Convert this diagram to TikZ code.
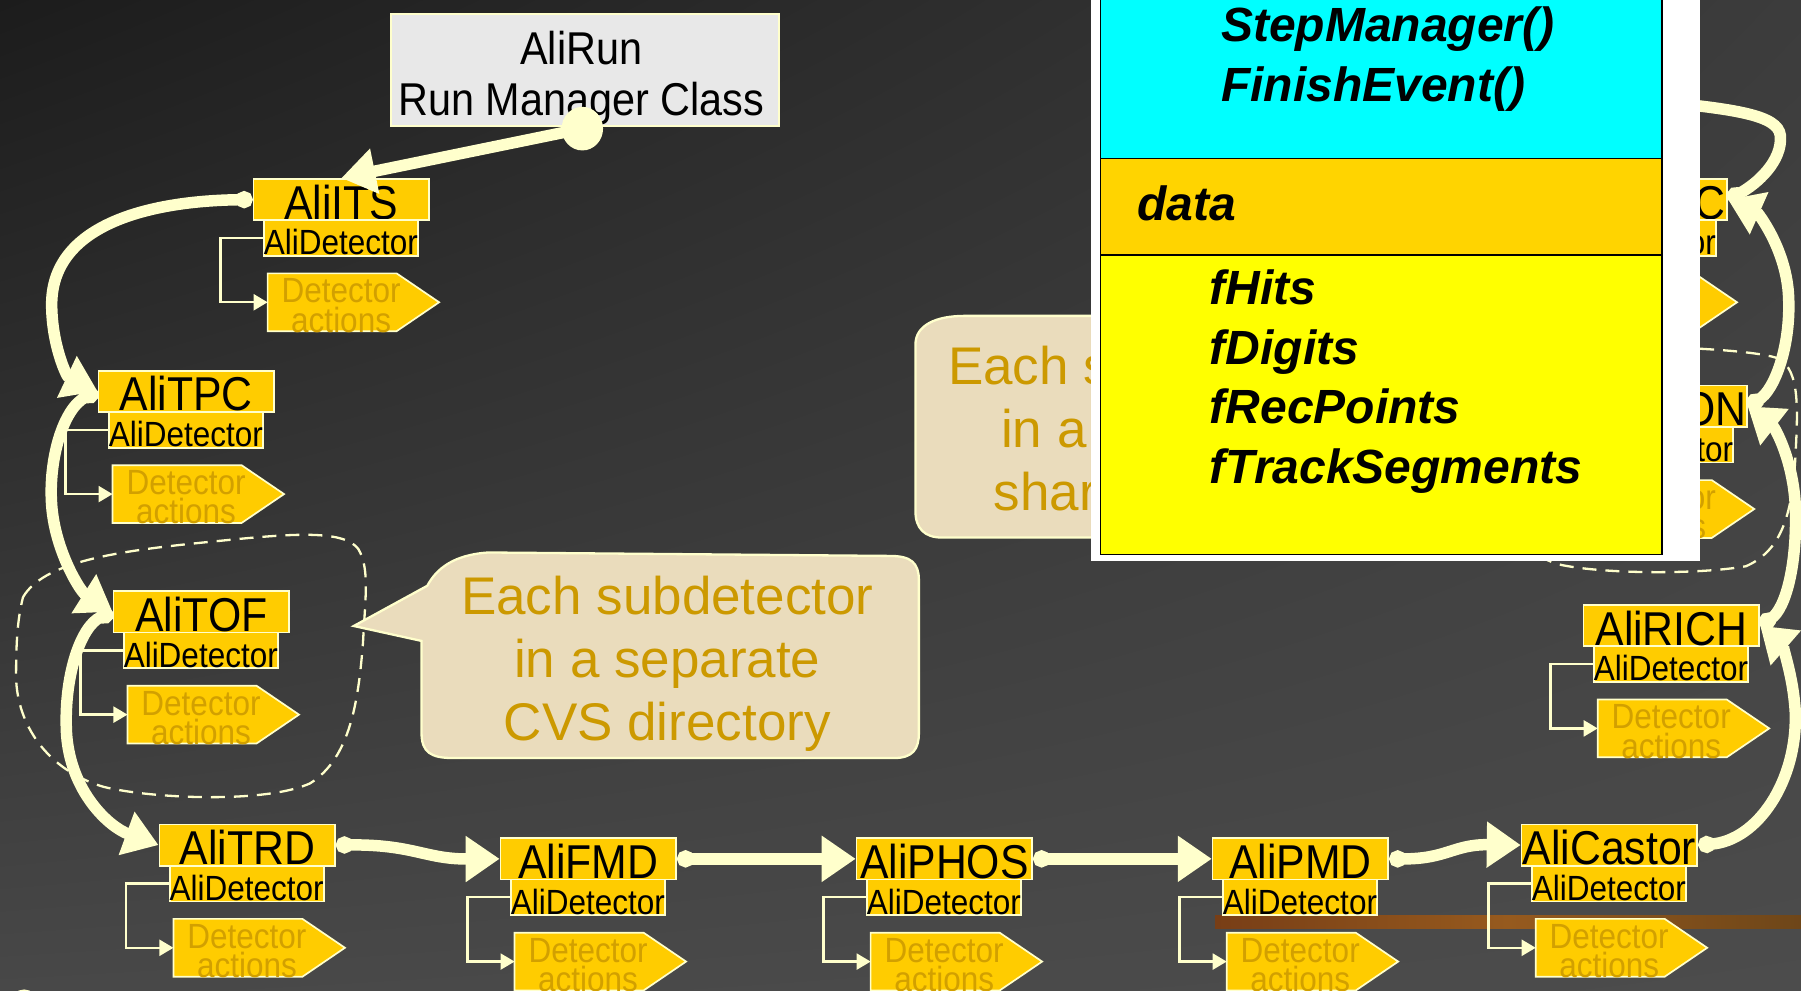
\documentclass[tikz,border=0pt]{standalone}
\usepackage{fontspec}
\setmainfont{Liberation Sans}
\newfontfamily\nsans[FakeStretch=0.9]{Liberation Sans}
\usetikzlibrary{arrows.meta,calc,shadings}
\definecolor{cream}{RGB}{255,255,204}
\definecolor{boxgold}{RGB}{255,204,0}
\definecolor{acttxt}{RGB}{210,160,0}
\definecolor{calltxt}{RGB}{204,153,0}
\definecolor{parch}{RGB}{234,220,188}
\definecolor{datagold}{RGB}{255,212,0}
\definecolor{pcyan}{RGB}{0,255,255}
\definecolor{pyellow}{RGB}{255,255,0}
\definecolor{runbg}{RGB}{232,232,232}
\definecolor{bgUL}{RGB}{28,28,28}
\definecolor{bgUR}{RGB}{60,60,60}
\definecolor{bgLL}{RGB}{72,72,72}
\definecolor{bgLR}{RGB}{76,76,76}
\definecolor{stripA}{RGB}{120,62,22}
\definecolor{stripB}{RGB}{150,90,30}
\definecolor{stripC}{RGB}{110,70,25}
\tikzset{
  mainbox/.style={draw=cream, line width=1.7pt, fill=boxgold, anchor=north west,
    minimum width=175.7pt, inner sep=0pt, text height=40.2pt, text depth=1.1pt,
    font=\nsans\fontsize{47.5}{50}\selectfont},
  detbox/.style={draw=cream, line width=1.7pt, fill=boxgold, anchor=north west,
    minimum width=153.9pt, inner sep=0pt, text height=34.5pt, text depth=1.1pt,
    font=\nsans\fontsize{35}{40}\selectfont},
  actbox/.style={anchor=north west, minimum width=171.1pt, minimum height=57.4pt, inner sep=0pt},
  actshape/.style={draw=cream, line width=1.7pt, fill=boxgold, line join=miter},
  acttext/.style={align=center, inner sep=0pt, text=acttxt, font=\nsans\fontsize{35}{29.3}\selectfont},
  bracket/.style={draw=cream, line width=2.3pt, -{Triangle[length=14pt,width=16pt]}},
  flow/.style={draw=cream, line width=11.5pt, {Circle[length=17pt]}-{Triangle[length=34pt,width=44pt]}},
  flowhead/.style={draw=cream, line width=11.5pt, -{Triangle[length=34pt,width=44pt]}},
  flowtail/.style={draw=cream, line width=11.5pt, {Circle[length=17pt]}-},
  dashloop/.style={draw=cream, line width=2.3pt, dash pattern=on 14pt off 9pt},
  callout/.style={draw=cream, line width=2.3pt, fill=parch},
  calltext/.style={align=center, inner sep=0pt, text=calltxt, font=\fontsize{53}{63}\selectfont},
  runtext/.style={align=center, inner sep=0pt, text=black, font=\nsans\fontsize{46}{51.7}\selectfont},
  paneltext/.style={anchor=base west, inner sep=0pt, font=\bfseries\itshape\fontsize{48}{55}\selectfont},
}
\newcommand\detmod[4]{%
  \node[mainbox] (#1) at (#3,#4) {#2};
  \node[detbox] (#1d) at (#3+9,#4+36) {AliDetector};
  \node[actbox] (#1a) at (#3+13,#4+83) {};
  \path[actshape] (#1a.north west) -- ($(#1a.north east)+(-37,0)$) -- (#1a.east)
     -- ($(#1a.south east)+(-37,0)$) -- (#1a.south west) -- cycle;
  \node[acttext] (#1t) at (#3+77,#4+111) {Detector\\actions};
  \draw[bracket] (#1d.west) -- ++(-37,0) |- (#1a.west);
}
\begin{document}
\begin{tikzpicture}[x=1.1486pt, y=-1.1486pt]
\useasboundingbox (0,0) rectangle (1568,862);
\clip (0,0) rectangle (1568,862);
\shade[upper left=bgUL, upper right=bgUR, lower left=bgLL, lower right=bgLR] (0,0) rectangle (1568,862);
% background strip and ring
\shade[left color=stripA, right color=stripC, middle color=stripB] (1058,797) rectangle (1568,808);
\draw[cream, line width=4.5pt] (21,873) circle[radius=11pt];
% dashed groups
\draw[dashloop] (20,520) .. controls (40,485) and (120,478) .. (200,470)
  .. controls (260,464) and (300,462) .. (312,478)
  .. controls (322,495) and (318,520) .. (316,560)
  .. controls (312,610) and (305,660) .. (270,682)
  .. controls (230,700) and (130,695) .. (90,685)
  .. controls (40,670) and (15,630) .. (14,590)
  .. controls (14,560) and (15,540) .. (20,520) -- cycle;
\draw[dashloop] (1300,300) .. controls (1400,300) and (1520,302) .. (1548,312)
  .. controls (1568,322) and (1565,360) .. (1563,400)
  .. controls (1560,450) and (1550,480) .. (1520,493)
  .. controls (1480,500) and (1400,500) .. (1360,492)
  .. controls (1330,485) and (1310,460) .. (1300,420) -- cycle;
% callouts
\path[callout] (372,510) -- (308,545) -- (367,558) -- (367,638)
  .. controls (367,655) and (375,660) .. (395,660) -- (778,660)
  .. controls (795,660) and (800,652) .. (800,638) -- (800,505)
  .. controls (800,490) and (793,484) .. (775,484) -- (425,481)
  .. controls (395,483) and (380,495) .. (372,510) -- cycle;
\node[calltext] (call1) at (581,578) {Each subdetector\\in a separate\\CVS directory};
\path[callout] (797,300) .. controls (797,283) and (815,275) .. (840,275) -- (1240,275)
  -- (1240,468) -- (820,468) .. controls (805,468) and (797,460) .. (797,445) -- cycle;
\node[calltext] (call2) at (1005,378) {Each subdetector\\in a separate\\shared library};
% run manager
\node[draw=cream, line width=2pt, fill=runbg, minimum width=388pt, minimum height=112.6pt] (run) at (509,61) {};
\node[runtext] (runt) at (506,68) {AliRun\\Run Manager Class};
\coordinate (rundot) at (507,112);
% detector modules
\detmod{its}{AliITS}{220}{155}
\detmod{tpc}{AliTPC}{85}{322}
\detmod{tof}{AliTOF}{98}{514}
\detmod{trd}{AliTRD}{138}{717}
\detmod{fmd}{AliFMD}{435}{729}
\detmod{phos}{AliPHOS}{745}{729}
\detmod{pmd}{AliPMD}{1055}{729}
\detmod{castor}{AliCastor}{1324}{717}
\detmod{rich}{AliRICH}{1378}{526}
\detmod{muon}{AliMUON}{1365}{335}
\detmod{zdc}{\hspace*{36pt}AliZDC}{1350}{155}
% connectors
\draw[flowhead] (rundot) -- (its.north);
\fill[cream] (rundot) ellipse [x radius=20.7pt, y radius=21.8pt];
\draw[flow] (its.west) .. controls (120,175) and (45,200) .. (45,265)
  .. controls (45,300) and (58,328) .. (tpc.west);
\draw[flow] (tpc.west) .. controls (55,355) and (42,400) .. (45,440)
  .. controls (48,480) and (70,515) .. (tof.west);
\draw[flow] (tof.west) .. controls (70,545) and (55,590) .. (58,640)
  .. controls (62,690) and (95,720) .. (trd.west);
\draw[flow] (trd.east) .. controls (360,735) and (370,748) .. (fmd.west);
\draw[flow] (fmd.east) -- (phos.west);
\draw[flow] (phos.east) -- (pmd.west);
\draw[flow] (pmd.east) .. controls (1260,748) and (1265,735) .. (castor.west);
\draw[flow] (castor.east) .. controls (1530,732) and (1565,680) .. (1563,620)
  .. controls (1561,585) and (1550,560) .. (rich.east);
\draw[flow] (rich.east) .. controls (1555,530) and (1565,490) .. (1563,440)
  .. controls (1561,400) and (1545,372) .. (muon.east);
\draw[flow] (muon.east) .. controls (1545,340) and (1560,300) .. (1557,255)
  .. controls (1554,215) and (1530,185) .. (zdc.east);
\coordinate (zout) at (1440,88);
\draw[flowtail] (zdc.east) .. controls (1530,160) and (1552,140) .. (1550,118)
  .. controls (1548,100) and (1510,95) .. (zout);
% class panel
\fill[white] (950,-10) rectangle (1480,488);
\filldraw[fill=pcyan, draw=black, line width=1.2pt] (958,-10) rectangle (1447,138);
\filldraw[fill=datagold, draw=black, line width=1.2pt] (958,138) rectangle (1447,222);
\filldraw[fill=pyellow, draw=black, line width=1.2pt] (958,222) rectangle (1447,483);
\node[paneltext] (m1) at (1063,36) {StepManager()};
\node[paneltext] (m2) at (1063,88) {FinishEvent()};
\node[paneltext] (dt) at (990,192) {data};
\node[paneltext] (d1) at (1053,265) {fHits};
\node[paneltext] (d2) at (1053,317) {fDigits};
\node[paneltext] (d3) at (1053,369) {fRecPoints};
\node[paneltext] (d4) at (1053,421) {fTrackSegments};
\end{tikzpicture}
\end{document}
